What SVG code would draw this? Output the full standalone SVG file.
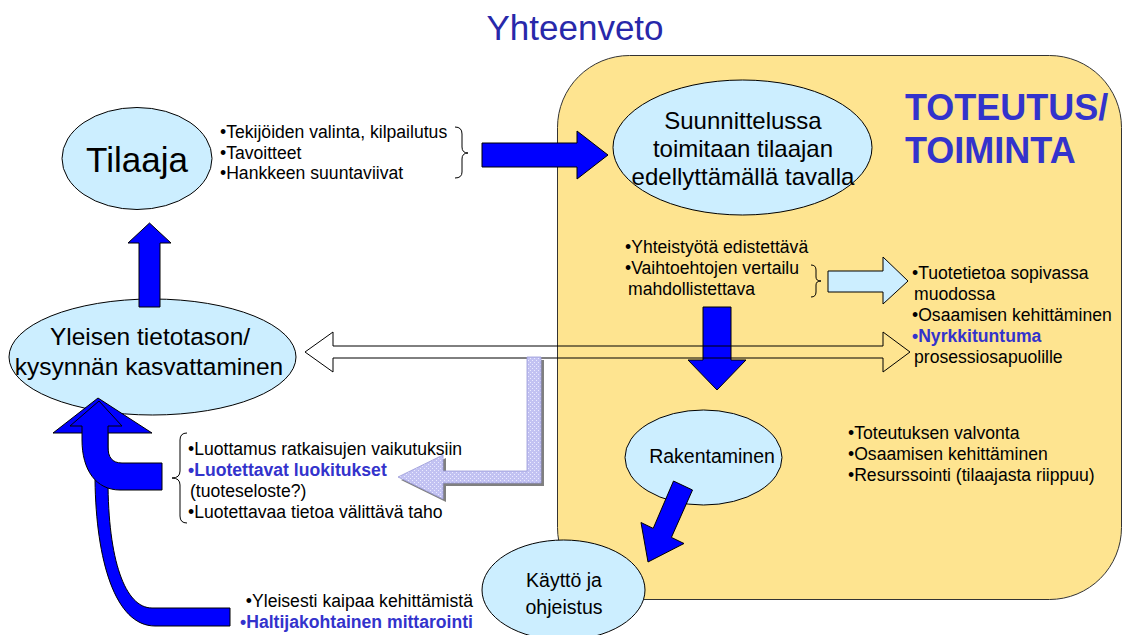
<svg xmlns="http://www.w3.org/2000/svg" width="1123" height="635" viewBox="0 0 1123 635">
  <style>
    text { font-family: "Liberation Sans", Arial, sans-serif; fill: #000; }
    .title { font-size: 35px; fill: #2828aa; }
    .node { fill: #cceeff; stroke: #000; stroke-width: 1; }
    .label { font-size: 24px; text-anchor: middle; }
    .small { font-size: 19.5px; }
    .list { font-size: 17.6px; }
    .hl { font-weight: bold; fill: #3333cc; }
    .brace { fill: none; stroke: #000; stroke-width: 1; }
    .solid { fill: #0000ff; stroke: #000; stroke-width: 1; stroke-linejoin: miter; }
    .hollow { fill: none; stroke: #000; stroke-width: 1; }
  </style>
  <defs>
    <pattern id="lavTex" width="4" height="4" patternUnits="userSpaceOnUse">
      <rect width="4" height="4" fill="#c2c2f2"/>
      <rect width="1" height="1" fill="#ebebff"/>
      <rect x="2" y="2" width="1" height="1" fill="#ebebff"/>
    </pattern>
  </defs>

  <rect width="1123" height="635" fill="#ffffff"/>

  <text class="title" x="575" y="40" text-anchor="middle">Yhteenveto</text>

  <!-- implementation area -->
  <g id="toteutus">
    <rect x="557.5" y="55.5" width="564" height="544" rx="72" ry="72" fill="#fee490" stroke="#333" stroke-width="1"/>
    <text x="905" y="120" font-size="36" font-weight="bold" style="fill:#3333cc">TOTEUTUS/</text>
    <text x="905" y="163" font-size="36" font-weight="bold" style="fill:#3333cc">TOIMINTA</text>
  </g>

  <!-- nodes -->
  <g id="tilaaja">
    <ellipse class="node" cx="137" cy="158.5" rx="75" ry="51"/>
    <text x="137" y="172" font-size="35" text-anchor="middle">Tilaaja</text>
  </g>

  <g id="suunnittelu">
    <ellipse class="node" cx="742.5" cy="147.5" rx="129.5" ry="67.5"/>
    <text class="label" x="743" y="129">Suunnittelussa</text>
    <text class="label" x="743" y="157">toimitaan tilaajan</text>
    <text class="label" x="743" y="185">edellyttämällä tavalla</text>
  </g>

  <g id="yleisen">
    <ellipse class="node" cx="152.5" cy="357" rx="143.5" ry="58"/>
    <text class="label" x="150" y="345" style="font-size:24.5px">Yleisen tietotason/</text>
    <text class="label" x="149" y="375" style="font-size:24.5px">kysynnän kasvattaminen</text>
  </g>

  <g id="rakentaminen">
    <ellipse class="node" cx="703.5" cy="457.5" rx="78.5" ry="47.5"/>
    <text class="label small" x="712" y="463">Rakentaminen</text>
  </g>

  <g id="kaytto">
    <ellipse class="node" cx="563.5" cy="590" rx="81.5" ry="50"/>
    <text class="label small" x="564" y="587">Käyttö ja</text>
    <text class="label small" x="564" y="614">ohjeistus</text>
  </g>

  <!-- connectors -->
  <g id="connectors">
    <!-- Tilaaja list to design -->
    <path class="solid" d="M482,143 L577,143 L577,131 L608,155 L577,179 L577,167 L482,167 Z"/>
    <!-- knowledge level up to Tilaaja -->
    <path class="solid" d="M139,307 L139,243 L128,243 L149.5,223 L171,243 L160,243 L160,307 Z"/>
    <!-- design down to construction -->
    <path class="solid" d="M703,307 L731,307 L731,360 L746,360 L717,390 L688,360 L703,360 Z"/>
    <!-- design to product information -->
    <path d="M828,271 L883,271 L883,257 L908,281 L883,304 L883,292 L828,292 Z" fill="#cceeff" stroke="#000" stroke-width="1"/>
    <!-- two-way link between knowledge level and the area -->
    <path class="hollow" d="M305,352 L333,332 L333,346 L883,346 L883,332 L910,352 L883,372 L883,358 L333,358 L333,372 Z"/>
    <!-- feedback to trust list -->
    <path d="M544,360 L544,486 L446,486 L446,502 L401,480 L446,458 L446,474 L530,474 L530,360 Z" fill="#808080"/>
    <path d="M541,357 L541,483 L443,483 L443,499 L398,477 L443,455 L443,471 L527,471 L527,357 Z" fill="url(#lavTex)" stroke="#9a9ad8" stroke-width="0.8"/>
    <!-- construction to use -->
    <path class="solid" d="M673.5,481 L692.5,490 L671.4,537.4 L684,543.5 L648,562 L641,522.5 L653.2,528.4 Z"/>
    <!-- long curved feedback from use -->
    <path class="solid" d="M53,433 L98,398 L152,433 L108,433 L108,480 C108,560 125,608 152,608 L230,608 L230,626 L155,626 C115,626 96,560 95,480 L95,433 Z"/>
    <!-- short curved feedback from trust list -->
    <path class="solid" d="M70,426 L99,401 L122,426 L108,426 L108,447 C108,457 112,463 122,463 L162,463 L162,490 L120,490 C96,490 82,470 82,440 L82,426 Z"/>
  </g>

  <!-- bullet lists -->
  <g id="list-tilaaja">
    <text class="list" x="220" y="138">•Tekijöiden valinta, kilpailutus</text>
    <text class="list" x="220" y="159">•Tavoitteet</text>
    <text class="list" x="220" y="179">•Hankkeen suuntaviivat</text>
    <path class="brace" d="M455,127 Q462,127 462,134 L462,147 Q462,153 468,153 Q462,153 462,159 L462,172 Q462,178 455,178"/>
  </g>

  <g id="list-suunnittelu">
    <text class="list" x="625" y="253">•Yhteistyötä edistettävä</text>
    <text class="list" x="625" y="274">•Vaihtoehtojen vertailu</text>
    <text class="list" x="628" y="295">mahdollistettava</text>
    <path class="brace" d="M811,265 Q816,265 816,270 L816,277 Q816,281 821,281 Q816,281 816,285 L816,292 Q816,297 811,297"/>
  </g>

  <g id="list-tuote">
    <text class="list" x="912" y="279">•Tuotetietoa sopivassa</text>
    <text class="list" x="914" y="300">muodossa</text>
    <text class="list" x="912" y="321">•Osaamisen kehittäminen</text>
    <text class="list hl" x="912" y="342">•Nyrkkituntuma</text>
    <text class="list" x="914" y="363">prosessiosapuolille</text>
  </g>

  <g id="list-luottamus">
    <text class="list" x="188" y="455">•Luottamus ratkaisujen vaikutuksiin</text>
    <text class="list hl" x="188" y="476">•Luotettavat luokitukset</text>
    <text class="list" x="190" y="497">(tuoteseloste?)</text>
    <text class="list" x="188" y="518">•Luotettavaa tietoa välittävä taho</text>
    <path class="brace" d="M187,433 Q180,433 180,440 L180,471 Q180,478 172,478 Q180,478 180,485 L180,516 Q180,523 187,523"/>
  </g>

  <g id="list-rakentaminen">
    <text class="list" x="848" y="439">•Toteutuksen valvonta</text>
    <text class="list" x="848" y="460">•Osaamisen kehittäminen</text>
    <text class="list" x="848" y="481">•Resurssointi (tilaajasta riippuu)</text>
  </g>

  <g id="list-kaytto">
    <text class="list" x="473" y="607" text-anchor="end">•Yleisesti kaipaa kehittämistä</text>
    <text class="list hl" x="473" y="628" text-anchor="end">•Haltijakohtainen mittarointi</text>
  </g>
</svg>
